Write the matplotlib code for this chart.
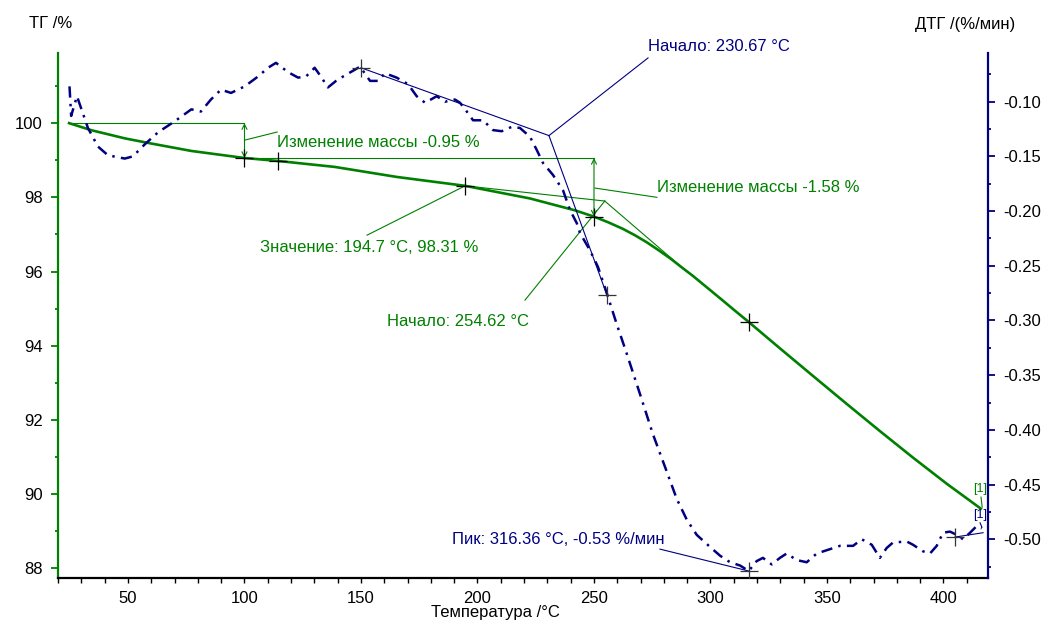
import matplotlib
matplotlib.use('Agg')
import matplotlib.pyplot as plt
from matplotlib.ticker import MultipleLocator, FormatStrFormatter

plt.rcParams['font.family'] = ['Liberation Sans', 'DejaVu Sans']
plt.rcParams['axes.unicode_minus'] = False

# ---------------- data ----------------
tg_temp = [24.7, 34.2, 48.6, 60.0, 77.2, 100.0, 114.4, 138.7, 165.3, 194.7,
           222.5, 241.8, 250.0, 256.0, 262.4, 267.5, 272.6, 277.6, 282.6, 287.5,
           292.5, 298.3, 304.1, 310.2, 316.4, 329.8, 344.1, 358.5, 372.7, 387.0,
           401.4, 416.0]
tg_mass = [100.0, 99.81, 99.59, 99.45, 99.25, 99.06, 98.98, 98.82, 98.55, 98.31,
           97.97, 97.65, 97.48, 97.33, 97.15, 96.98, 96.79, 96.58, 96.36, 96.12,
           95.88, 95.58, 95.28, 94.96, 94.64, 93.93, 93.18, 92.43, 91.70, 90.98,
           90.28, 89.61]

dtg_temp = [24.9, 25.6, 28.1, 32.8, 37.1, 41.4, 48.6, 52.1, 57.2, 62.9, 70.0, 77.2,
            81.3, 85.6, 89.9, 94.2, 100.1, 105.8, 110.1, 113.5, 118.7, 123.0, 126.4,
            130.1, 132.8, 135.8, 139.3, 142.3, 149.6, 153.9, 157.3, 160.3, 165.3,
            170.2, 173.9, 177.5, 182.5, 186.1, 190.3, 192.5, 195.4, 198.1, 202.4,
            206.7, 210.4, 214.7, 218.2, 222.5, 225.4, 228.1, 232.4, 236.7, 239.7,
            242.6, 244.0, 248.3, 251.7, 255.5, 259.7, 264.0, 269.7, 275.3, 281.2,
            285.5, 289.8, 294.1, 299.8, 304.1, 308.4, 312.7, 316.4, 319.8, 322.5,
            326.3, 329.8, 332.7, 337.0, 341.3, 345.6, 349.9, 355.6, 361.2, 364.9,
            369.2, 372.7, 375.6, 378.3, 384.2, 386.9, 391.2, 394.2, 397.1, 399.8,
            402.8, 405.7, 408.4, 411.4, 414.2, 416.4]
dtg_rate = [-0.086, -0.113, -0.095, -0.124, -0.141, -0.149, -0.152, -0.150, -0.139,
            -0.128, -0.118, -0.107, -0.109, -0.098, -0.089, -0.092, -0.086, -0.077,
            -0.069, -0.0645, -0.073, -0.078, -0.077, -0.069, -0.077, -0.087, -0.081,
            -0.077, -0.068, -0.081, -0.081, -0.074, -0.078, -0.084, -0.095, -0.101,
            -0.095, -0.100, -0.098, -0.101, -0.109, -0.117, -0.117, -0.126, -0.127,
            -0.123, -0.124, -0.132, -0.144, -0.156, -0.167, -0.181, -0.199, -0.211,
            -0.220, -0.236, -0.251, -0.275, -0.303, -0.330, -0.367, -0.404, -0.438,
            -0.463, -0.482, -0.496, -0.507, -0.515, -0.521, -0.524, -0.529, -0.520,
            -0.517, -0.523, -0.517, -0.513, -0.519, -0.521, -0.513, -0.510, -0.506,
            -0.506, -0.500, -0.505, -0.517, -0.508, -0.503, -0.502, -0.505, -0.511,
            -0.513, -0.506, -0.494, -0.493, -0.496, -0.500, -0.494, -0.488, -0.490]

# markers / evaluation points
tg_mark_t = [100.0, 114.4, 194.7, 250.0, 316.4]
tg_mark_m = [99.06, 98.98, 98.31, 97.48, 94.64]
dtg_mark_t = [150.0, 255.6, 316.36, 404.9]
dtg_mark_r = [-0.069, -0.277, -0.529, -0.498]

mass_step1 = (25.0, 100.0, 100.0, 99.06)   # start T, end T, start mass, end mass
mass_step2 = (100.0, 250.0, 99.06, 97.48)
onset_tg = (254.62, 97.90)
onset_dtg = (230.67, -0.131)
peak_dtg = (316.36, -0.529)

GREEN = '#008000'
NAVY = '#000080'
FS = 12

fig = plt.figure(figsize=(10.41, 6.23), dpi=100)
ax = fig.add_axes([58/1041, 45/623, 930/1041, 525/623])
ax2 = ax.twinx()

ax.set_xlim(19.96, 419.1)
ax.set_ylim(87.74, 101.89)
ax2.set_ylim(-0.5354, -0.0555)

# spines
for a in (ax, ax2):
    a.spines['top'].set_visible(False)
ax.spines['right'].set_visible(False)
ax2.spines['left'].set_visible(False)
ax2.spines['bottom'].set_visible(False)
ax.spines['left'].set_color(GREEN)
ax.spines['left'].set_linewidth(1.6)
ax.spines['bottom'].set_color('black')
ax.spines['bottom'].set_linewidth(1.6)
ax2.spines['right'].set_color(NAVY)
ax2.spines['right'].set_linewidth(1.6)

# ticks
ax.xaxis.set_major_locator(MultipleLocator(50))
ax.xaxis.set_minor_locator(MultipleLocator(10))
ax.yaxis.set_major_locator(MultipleLocator(2))
ax.yaxis.set_minor_locator(MultipleLocator(1))
ax2.yaxis.set_major_locator(MultipleLocator(0.05))
ax2.yaxis.set_minor_locator(MultipleLocator(0.025))
ax2.yaxis.set_major_formatter(FormatStrFormatter('%.2f'))

ax.tick_params(axis='x', which='both', direction='out', length=3.5, width=1,
               color='black', labelsize=FS, pad=6)
ax.tick_params(axis='y', which='major', direction='out', length=5, width=1.3,
               color=GREEN, labelsize=FS, pad=6)
ax.tick_params(axis='y', which='minor', direction='out', length=2.5, width=1.3,
               color=GREEN)
ax2.tick_params(axis='y', which='major', direction='out', length=5, width=1.3,
                color=NAVY, labelsize=FS, pad=6)
ax2.tick_params(axis='y', which='minor', direction='out', length=2.5, width=1.3,
                color=NAVY)

# curves
ax.plot(tg_temp, tg_mass, color=GREEN, lw=1.9, zorder=3, solid_joinstyle='round')
ax2.plot(dtg_temp, dtg_rate, color=NAVY, lw=1.8, dashes=(4.5, 2.5, 1, 2.5), zorder=3)

# ---- TG annotations ----
thin = dict(color=GREEN, lw=0.8)
# mass step 1
ax.plot([mass_step1[0], mass_step1[1]], [mass_step1[2], mass_step1[2]], **thin)
ax.annotate('', xy=(mass_step1[1], mass_step1[3]), xytext=(mass_step1[1], mass_step1[2]),
            arrowprops=dict(arrowstyle='<->', color=GREEN, lw=0.8, mutation_scale=9,
                            shrinkA=0, shrinkB=0))
ax.plot([100.0, 114.0], [99.54, 99.76], **thin)
ax.text(114.0, 99.49, 'Изменение массы -0.95 %', color=GREEN, fontsize=FS,
        va='center', ha='left')
# mass step 2
ax.plot([mass_step2[0], mass_step2[1]], [mass_step2[2], mass_step2[2]], **thin)
ax.annotate('', xy=(mass_step2[1], mass_step2[3]), xytext=(mass_step2[1], mass_step2[2]),
            arrowprops=dict(arrowstyle='<->', color=GREEN, lw=0.8, mutation_scale=9,
                            shrinkA=0, shrinkB=0))
ax.plot([250.4, 277.0], [98.25, 98.0], **thin)
ax.text(277.0, 98.27, 'Изменение массы -1.58 %', color=GREEN, fontsize=FS,
        va='center', ha='left')
# value point
ax.plot([152.6, 194.7], [96.98, 98.31], **thin)
ax.text(106.7, 96.66, 'Значение: 194.7 °C, 98.31 %', color=GREEN, fontsize=FS,
        va='center', ha='left')
# onset tangents
ax.plot([194.7, onset_tg[0]], [98.31, onset_tg[1]], **thin)
ax.plot([onset_tg[0], 290.0], [onset_tg[1], 95.99], **thin)
ax.plot([220.4, onset_tg[0]], [95.23, onset_tg[1]], **thin)
ax.text(161.2, 94.66, 'Начало: 254.62 °C', color=GREEN, fontsize=FS,
        va='center', ha='left')
# end label
ax.plot([416.1, 416.6], [89.92, 89.65], **thin)
ax.text(415.7, 90.14, '[1]', color=GREEN, fontsize=9, va='center', ha='center')
ax.plot(tg_mark_t, tg_mark_m, ls='none', marker='+', ms=13, mew=0.9, color='black',
        zorder=4)

# ---- DTG annotations ----
thinb = dict(color=NAVY, lw=0.8)
ax2.plot([150.0, onset_dtg[0]], [-0.069, onset_dtg[1]], **thinb)
ax2.plot([onset_dtg[0], 255.6], [onset_dtg[1], -0.277], **thinb)
ax2.plot([onset_dtg[0], 273.2], [onset_dtg[1], -0.060], clip_on=False, **thinb)
ax2.text(273.2, -0.050, 'Начало: 230.67 °C', color=NAVY, fontsize=FS,
         va='center', ha='left')
ax2.plot([278.3, peak_dtg[0]], [-0.509, peak_dtg[1]], **thinb)
ax2.text(189.1, -0.500, 'Пик: 316.36 °C, -0.53 %/мин', color=NAVY, fontsize=FS,
         va='center', ha='left')
ax2.plot([404.9, 417.0], [-0.498, -0.494], **thinb)
ax2.plot([415.7, 416.5], [-0.485, -0.489], **thinb)
ax2.text(415.7, -0.478, '[1]', color=NAVY, fontsize=9, va='center', ha='center')
ax2.plot(dtg_mark_t, dtg_mark_r, ls='none', marker='+', ms=13, mew=0.9,
         color='#333333', zorder=4)

# axis titles
fig.text(51/1041, 1 - 23/623, 'ТГ /%', fontsize=FS, ha='center', va='center')
fig.text(965/1041, 1 - 25/623, 'ДТГ /(%/мин)', fontsize=FS, ha='center', va='center')
fig.text(495/1041, 1 - 612/623, 'Температура /°C', fontsize=FS, ha='center', va='center')

fig.savefig('out.png', dpi=100)
